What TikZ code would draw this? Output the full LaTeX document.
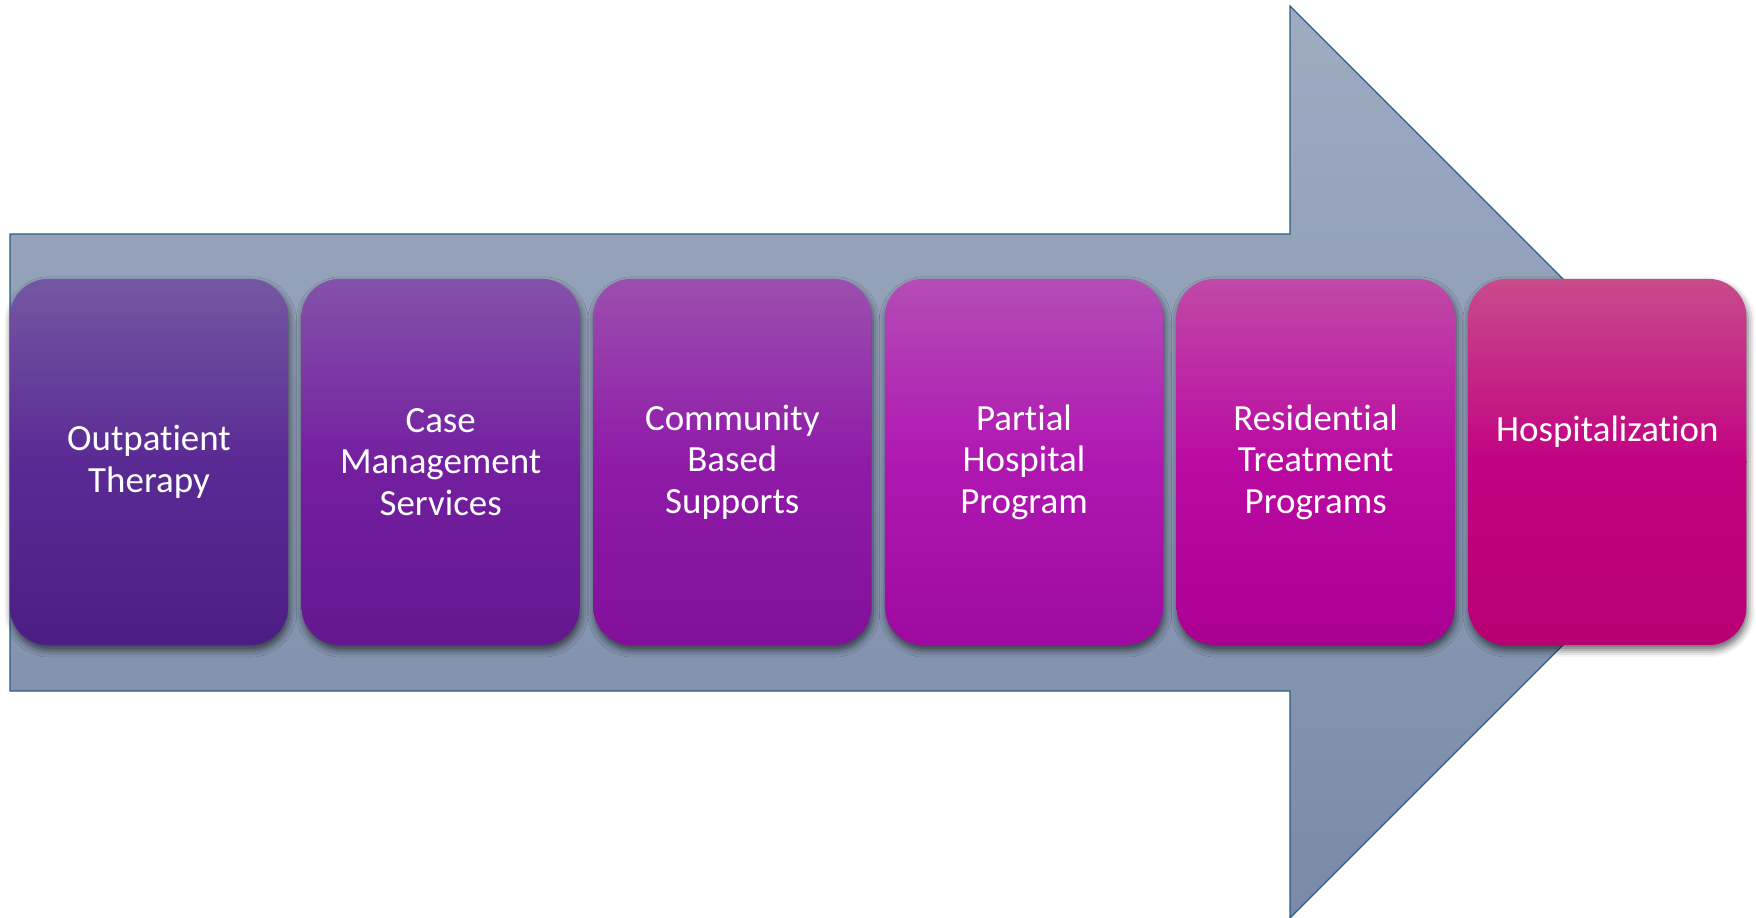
\documentclass[tikz,border=0pt]{standalone}
\usepackage{fontspec}
\setmainfont{Carlito}[Ligatures=NoCommon]
\usetikzlibrary{positioning}
\usetikzlibrary{shadows.blur}

\definecolor{arrowtop}{HTML}{9EABC1}
\definecolor{arrowbot}{HTML}{7A8AA7}
\definecolor{arrowline}{HTML}{2B5C8A}
\definecolor{oneT}{HTML}{7457A2}\definecolor{oneM}{HTML}{5A2A94}\definecolor{oneB}{HTML}{4C1E85}
\definecolor{twoT}{HTML}{8452AA}\definecolor{twoM}{HTML}{741FA0}\definecolor{twoB}{HTML}{64178F}
\definecolor{threeT}{HTML}{9C4FAF}\definecolor{threeM}{HTML}{8F1BA8}\definecolor{threeB}{HTML}{82109A}
\definecolor{fourT}{HTML}{B44CB6}\definecolor{fourM}{HTML}{B017B2}\definecolor{fourB}{HTML}{9E0AA0}
\definecolor{fiveT}{HTML}{C049A6}\definecolor{fiveM}{HTML}{BA0AA2}\definecolor{fiveB}{HTML}{AA0092}
\definecolor{sixT}{HTML}{C84B8A}\definecolor{sixM}{HTML}{C20282}\definecolor{sixB}{HTML}{B80072}

\tikzset{
  stage/.style={rectangle, rounded corners=0.38cm, minimum width=2.78cm, minimum height=3.66cm,
    text=white, align=center, inner sep=0pt, outer sep=0pt, font=\fontsize{10.5}{11.8}\selectfont,
    blur shadow={shadow xshift=0.4pt, shadow yshift=-1.4pt, shadow blur radius=2pt, shadow opacity=60}},
  stagetext/.style={text=white, align=center, font=\fontsize{10.5}{11.8}\selectfont}
}

\begin{document}
\begin{tikzpicture}[x=0.01cm, y=-0.01cm]
            \useasboundingbox (0,0) rectangle (1756,918);
            % Big background arrow
            \draw[arrowline, line width=0.35pt, top color=arrowtop, bottom color=arrowbot]
              (10,234) -- (1290,234) -- (1290,6) -- (1746,462) -- (1290,918) -- (1290,691) -- (10,691) -- cycle;

            % Levels of care, left to right
            \node[stage, top color=oneT, bottom color=oneB, middle color=oneM] (b1) at (149,462) {Outpatient\\Therapy};
            \node[stage, right=0.135cm of b1, top color=twoT, bottom color=twoB, middle color=twoM] (b2) {Case\\Management\\Services};
            \node[stage, right=0.135cm of b2, top color=threeT, bottom color=threeB, middle color=threeM] (b3) {Community\\Based\\Supports};
            \node[stage, right=0.135cm of b3, top color=fourT, bottom color=fourB, middle color=fourM] (b4) {Partial\\Hospital\\Program};
            \node[stage, right=0.135cm of b4, top color=fiveT, bottom color=fiveB, middle color=fiveM] (b5) {Residential\\Treatment\\Programs};
            \node[stage, right=0.135cm of b5, top color=sixT, bottom color=sixB, middle color=sixM] (b6) {};
            \node[stagetext] (t6) at ([yshift=0.3cm]b6.center) {Hospitalization};
        \end{tikzpicture}
\end{document}
